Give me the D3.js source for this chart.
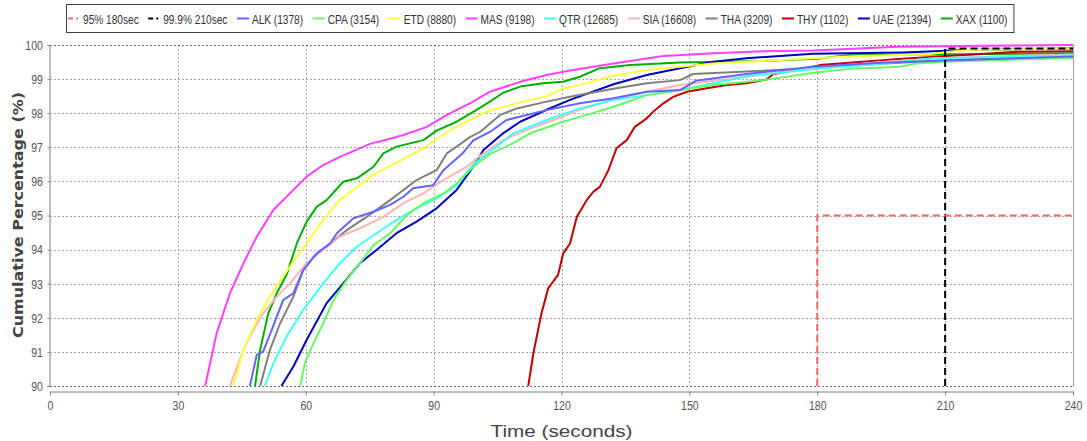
<!DOCTYPE html>
<html>
<head>
<meta charset="utf-8">
<script src="https://cdn.jsdelivr.net/npm/d3@7"></script>
<style>
  body { margin: 0; background: #fff; }
  svg text { font-family: "Liberation Sans", Arial, sans-serif; }
</style>
</head>
<body>
<div id="chart"></div>
<script>
// values: [seconds, cumulative %]
const alk = [[46.9, 90], [48.5, 90.91], [50, 91.01], [52, 91.64], [54.7, 92.52], [57.1, 92.72], [59.4, 93.4], [62.6, 93.89], [65.7, 94.18], [67.3, 94.48], [71.2, 94.92], [75.9, 95.11], [79.8, 95.31], [82.9, 95.55], [85.2, 95.8], [89.9, 95.89], [92.3, 96.33], [97, 96.85], [99.3, 97.2], [103.2, 97.45], [107.1, 97.8], [116.5, 98.09], [124.3, 98.29], [132.2, 98.44], [140, 98.63], [147.8, 98.68], [151.5, 98.95], [163.4, 99.15], [179, 99.36], [195, 99.48], [214, 99.56], [240, 99.66]];
const cpa = [[58.7, 90], [59.8, 90.67], [61.8, 91.25], [64.1, 91.84], [66.5, 92.52], [69.6, 93.11], [72.7, 93.6], [75.9, 94.13], [79.8, 94.48], [83.7, 95.01], [87.6, 95.36], [92.3, 95.65], [95.4, 95.94], [99.3, 96.43], [103.2, 96.8], [108.7, 97.12], [112.6, 97.41], [120.4, 97.75], [125.9, 97.95], [132.2, 98.19], [140, 98.53], [147.8, 98.68], [155.6, 98.83], [167.3, 98.97], [180, 99.2], [187.7, 99.3], [199.4, 99.36], [203.3, 99.46], [209.5, 99.51], [240, 99.62]];
const etd = [[43, 90], [45.4, 91.06], [48.5, 91.94], [51.6, 92.62], [54.7, 93.21], [57.9, 93.79], [60.2, 94.18], [64.1, 94.87], [68, 95.45], [72, 95.84], [75.9, 96.2], [81.3, 96.55], [88, 97.0], [91.5, 97.31], [94.6, 97.55], [97, 97.7], [102.4, 98.05], [108.7, 98.26], [116.5, 98.5], [120, 98.7], [124.3, 98.83], [132.2, 99.1], [140, 99.27], [147.8, 99.36], [155.6, 99.46], [166.6, 99.53], [180, 99.62], [190, 99.68], [205, 99.72], [215, 99.85], [240, 99.9]];
const mas = [[36.4, 90], [39.1, 91.55], [42.2, 92.72], [45.4, 93.6], [48.5, 94.38], [52.4, 95.16], [56.3, 95.65], [60.2, 96.14], [64.1, 96.48], [68, 96.72], [75.1, 97.1], [79.8, 97.25], [82.9, 97.36], [88.4, 97.6], [93.1, 97.95], [98.5, 98.29], [103.2, 98.63], [110.3, 98.92], [116.5, 99.12], [122, 99.25], [132.2, 99.46], [143.9, 99.68], [155.6, 99.76], [167.3, 99.82], [179, 99.84], [187, 99.88], [199, 99.95], [220, 99.98], [240, 100]];
const qtr = [[50.4, 90], [52.4, 90.67], [55.5, 91.45], [59.4, 92.23], [64.1, 93.01], [68, 93.6], [72, 94.09], [76.6, 94.48], [81.3, 94.87], [86, 95.21], [90.7, 95.5], [95.4, 95.89], [99.3, 96.5], [103.2, 96.87], [108.7, 97.41], [116.5, 97.8], [124.3, 98.14], [132.2, 98.39], [140, 98.53], [147.8, 98.68], [155.6, 98.88], [164, 99.1], [179.9, 99.3], [195.5, 99.46], [207, 99.61], [240, 99.7]];
const sia = [[42.2, 90], [45.4, 91.06], [47.7, 91.64], [50, 92.13], [53.2, 92.62], [56.3, 93.01], [60.2, 93.6], [64.1, 93.99], [68, 94.38], [73.5, 94.67], [78.2, 94.96], [82.9, 95.36], [87.6, 95.65], [92.3, 96.04], [97.8, 96.43], [100.9, 96.75], [106.3, 97.21], [111.8, 97.51], [118.1, 97.8], [124.3, 98.1], [132.2, 98.4], [140, 98.63], [147.8, 98.83], [163.4, 99.07], [179, 99.32], [195, 99.5], [210, 99.62], [240, 99.72]];
const tha = [[49.3, 90], [51.6, 91.06], [54, 91.84], [57.1, 92.62], [59.4, 93.4], [61.8, 93.79], [65.7, 94.18], [69.6, 94.57], [74.3, 94.96], [79.8, 95.45], [86, 96.04], [90.7, 96.33], [93.1, 96.82], [95.4, 97.02], [98.5, 97.3], [100.9, 97.45], [105.6, 97.95], [109.5, 98.14], [116.5, 98.34], [122, 98.48], [132.2, 98.72], [140, 98.88], [147.8, 98.97], [150.9, 99.15], [163.4, 99.22], [179, 99.32], [195, 99.45], [210, 99.55], [240, 99.7]];
const thy = [[112.2, 90], [113.4, 90.96], [115.3, 92.13], [116.9, 92.87], [119.2, 93.26], [120.4, 93.89], [122, 94.18], [123.6, 94.96], [125.9, 95.45], [127.5, 95.7], [129, 95.84], [131, 96.33], [132.9, 96.97], [135.3, 97.21], [137.2, 97.6], [140, 97.85], [141.5, 98.04], [143.9, 98.29], [146.2, 98.48], [149.4, 98.63], [154.1, 98.73], [158.8, 98.83], [163.4, 98.88], [168.1, 98.99], [169.7, 99.15], [175.2, 99.27], [180.6, 99.41], [200, 99.6], [227, 99.8], [240, 99.82]];
const uae = [[54.3, 90], [57.1, 90.57], [60.2, 91.35], [64.9, 92.43], [68.8, 93.01], [72.7, 93.6], [76.6, 93.99], [81.3, 94.48], [86, 94.82], [90.7, 95.21], [95.4, 95.75], [99.3, 96.43], [101.7, 96.92], [106.3, 97.41], [110.3, 97.75], [116.5, 98.1], [122, 98.39], [132.2, 98.85], [140, 99.12], [147.8, 99.32], [155.6, 99.51], [163.4, 99.61], [171.3, 99.68], [179, 99.74], [200, 99.78], [215, 99.85], [240, 99.9]];
const xax = [[48.1, 90], [49.3, 91.06], [51.2, 92.13], [53.2, 92.72], [55.5, 93.26], [57.9, 94.18], [60.2, 94.82], [62.6, 95.26], [64.9, 95.45], [68.8, 95.99], [72, 96.09], [75.9, 96.43], [78.2, 96.82], [81.3, 97.02], [87.6, 97.21], [90.7, 97.49], [95.4, 97.75], [99.3, 98.04], [103.2, 98.34], [106.3, 98.6], [110.3, 98.78], [115.7, 98.88], [120.4, 98.92], [124.3, 99.07], [129, 99.32], [136.1, 99.41], [147.8, 99.49], [166.6, 99.53], [180, 99.6], [187, 99.7], [207, 99.72], [240, 99.76]];

const seriesNames = ['ALK', 'CPA', 'ETD', 'MAS', 'QTR', 'SIA', 'THA', 'THY', 'UAE', 'XAX'];
const seriesCounts = [1378, 3154, 8880, 9198, 12685, 16608, 3209, 1102, 21394, 1100];
const seriesData = [alk, cpa, etd, mas, qtr, sia, tha, thy, uae, xax];
const seriesColors = ['#6464ff', '#64ff64', '#ffff40', '#ff40ff', '#40ffff', '#ffb4b4', '#808080', '#c00000', '#0000c0', '#00b000'];

// target lines: percentage reached within seconds
const targetLabels = ['95% 180sec', '99.9% 210sec'];
const targetPct = [95, 99.9];
const targetSec = [180, 210];
const targetColors = ['#ff6464', '#000000'];

const xTicks = [0, 30, 60, 90, 120, 150, 180, 210, 240];
const yTicks = [90, 91, 92, 93, 94, 95, 96, 97, 98, 99, 100];

const width = 1087;
const height = 441;
const plot = { left: 50, right: 1073, top: 45, bottom: 386 };
const narrow = 0.78; // squeeze for the condensed look of the labels

const x = d3.scaleLinear().domain([0, 240]).range([plot.left, plot.right]);
const y = d3.scaleLinear().domain([90, 100]).range([plot.bottom, plot.top]);

const svg = d3.select('#chart').
append('svg').
attr('width', width).
attr('height', height);

svg.append('defs').
append('clipPath').
attr('id', 'clip').
append('rect').
attr('x', plot.left).
attr('y', plot.top - 2).
attr('width', plot.right - plot.left).
attr('height', plot.bottom - plot.top + 2);

// grid
const grid = svg.append('g').attr('stroke', '#a8a8a8').attr('stroke-width', 1).attr('stroke-dasharray', '2,2');
grid.selectAll('line.gx').
data(xTicks.slice(1, -1)).
enter().
append('line').
attr('x1', d => Math.round(x(d)) + 0.5).
attr('x2', d => Math.round(x(d)) + 0.5).
attr('y1', plot.top).
attr('y2', plot.bottom);
grid.selectAll('line.gy').
data(yTicks).
enter().
append('line').
attr('x1', plot.left).
attr('x2', plot.right).
attr('y1', d => Math.round(y(d)) + 0.5).
attr('y2', d => Math.round(y(d)) + 0.5).
attr('stroke', d => d === 100 || d === 90 ? '#707070' : null);

// plot border right
svg.append('line').
attr('x1', plot.right + 0.5).attr('x2', plot.right + 0.5).
attr('y1', plot.top).attr('y2', plot.bottom + 1).
attr('stroke', '#a0a0a0');

const yAxis = d3.axisLeft(y).tickValues(yTicks).tickSize(2).tickPadding(6.5).tickFormat(d3.format('d'));
const yg = svg.append('g').
attr('transform', 'translate(' + (plot.left - 0.5) + ',0)').
call(yAxis);
yg.select('.domain').attr('stroke', '#808080');
yg.selectAll('.tick line').attr('stroke', '#808080');
yg.selectAll('text').
attr('fill', '#555').
attr('transform', 'scale(' + narrow + ',1)').
style('font-size', '13.5px');

const xAxis = d3.axisBottom(x).tickValues(xTicks).tickSize(4).tickSizeOuter(0).tickPadding(5);
const xg = svg.append('g').
attr('transform', 'translate(0,' + (plot.bottom + 5.5) + ')').
call(xAxis);
xg.select('.domain').attr('stroke', '#808080');
xg.selectAll('.tick line').attr('stroke', '#808080');
xg.selectAll('text').
attr('fill', '#555').
attr('transform', 'scale(' + narrow + ',1)').
style('font-size', '13.5px');

// axis titles
svg.append('text').
attr('x', (plot.left + plot.right) / 2).
attr('y', 437).
attr('text-anchor', 'middle').
attr('fill', '#444').
attr('textLength', 142).
attr('lengthAdjust', 'spacingAndGlyphs').
style('font-size', '16px').
text('Time (seconds)');

svg.append('text').
attr('transform', 'translate(23,' + 215 + ') rotate(-90)').
attr('text-anchor', 'middle').
attr('fill', '#444').
attr('textLength', 246).
attr('lengthAdjust', 'spacingAndGlyphs').
style('font-family', '"DejaVu Sans", sans-serif').
style('font-weight', 'bold').
style('font-size', '14px').
text('Cumulative Percentage (%)');

// series
const line = d3.line().x(d => x(d[0])).y(d => y(d[1]));
const lines = svg.append('g').attr('clip-path', 'url(#clip)');
for (let i = seriesData.length - 1; i >= 0; i--) {
  lines.append('path').
  datum(seriesData[i]).
  attr('d', line).
  attr('fill', 'none').
  attr('stroke', seriesColors[i]).
  attr('stroke-width', 2).
  attr('stroke-linejoin', 'round');
}

// target lines
for (let i = targetPct.length - 1; i >= 0; i--) {
  lines.append('path').
  datum([[targetSec[i], 90], [targetSec[i], targetPct[i]], [240, targetPct[i]]]).
  attr('d', line).
  attr('fill', 'none').
  attr('stroke', targetColors[i]).
  attr('stroke-width', 2).
  attr('stroke-dasharray', '7,4');
}

// legend
const legendItems = targetLabels.map((t, i) => ({ label: t, color: targetColors[i], dashed: true })).
concat(seriesNames.map((n, i) => ({ label: n + ' (' + seriesCounts[i] + ')', color: seriesColors[i], dashed: false })));

const legend = svg.append('g').attr('id', 'legend');
const legendBox = legend.append('rect').
attr('x', 66.5).attr('y', 4.5).
attr('height', 28).
attr('fill', '#fff').
attr('stroke', '#404040');

let lx = 68;
legendItems.forEach(function (item) {
  legend.append('line').
  attr('x1', lx).attr('x2', lx + 12).
  attr('y1', 18.5).attr('y2', 18.5).
  attr('stroke', item.color).
  attr('stroke-width', 2).
  attr('stroke-dasharray', item.dashed ? '5,3,2,3' : null);
  const t = legend.append('text').
  attr('transform', 'translate(' + (lx + 15) + ',23.5) scale(' + narrow + ',1)').
  attr('fill', '#333').
  style('font-size', '13px').
  text(item.label);
  lx = lx + 15 + t.node().getComputedTextLength() * narrow + 9.5;
});
legendBox.attr('width', lx - 3 - 66.5);
</script>
</body>
</html>
